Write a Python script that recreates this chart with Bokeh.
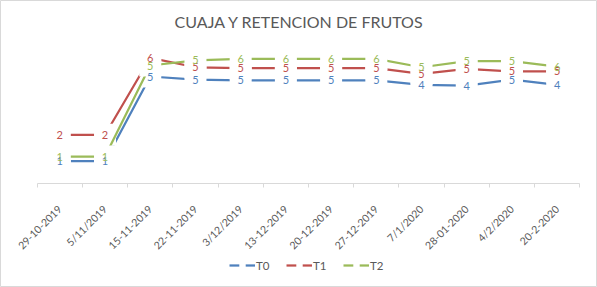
import math
from bokeh.plotting import figure
from bokeh.models import (ColumnDataSource, Range1d, LinearAxis, FixedTicker,
                          Legend, LegendItem, Label)
from bokeh.core.properties import value
from bokeh.embed import file_html
from bokeh.resources import INLINE

title = "CUAJA Y RETENCION DE FRUTOS"
dates = ["29-10-2019", "5/11/2019", "15-11-2019", "22-11-2019", "3/12/2019",
         "13-12-2019", "20-12-2019", "27-12-2019", "7/1/2020", "28-01-2020",
         "4/2/2020", "20-2-2020"]
t0 = [1.0, 1.0, 4.85, 4.71, 4.67, 4.67, 4.67, 4.67, 4.47, 4.44, 4.71, 4.47]
t1 = [2.2, 2.2, 5.70, 5.27, 5.23, 5.23, 5.23, 5.23, 4.97, 5.20, 5.08, 5.08]
t2 = [1.21, 1.21, 5.35, 5.58, 5.65, 5.65, 5.65, 5.65, 5.27, 5.55, 5.55, 5.30]
t0_labels = ["1", "1", "5", "5", "5", "5", "5", "5", "4", "4", "5", "4"]
t1_labels = ["2", "2", "6", "5", "5", "5", "5", "5", "5", "5", "5", "5"]
t2_labels = ["1", "1", "5", "5", "6", "6", "6", "6", "5", "5", "5", "6"]
series_names = ["T0", "T1", "T2"]
colors = ["#4F81BD", "#C0504D", "#9BBB59"]

W, H = 597, 287
n = len(dates)
xs = [i + 0.5 for i in range(n)]

# frame covers the whole canvas; plot area maps 0..n onto 36.7..579.3 px
px_per_cat = (579.3 - 36.7) / n
px_per_unit = 22.0
x0_px, y0_px = 36.7, 182.7

p = figure(width=W, height=H, output_backend="svg", toolbar_location=None,
           x_axis_location=None, y_axis_location=None, min_border=0,
           x_range=Range1d(-x0_px / px_per_cat, (W - x0_px) / px_per_cat),
           y_range=Range1d(-(H - y0_px) / px_per_unit, y0_px / px_per_unit))
p.grid.visible = False
p.outline_line_color = "#D9D9D9"
p.outline_line_width = 1
p.background_fill_color = "white"
p.border_fill_color = "white"

axis = LinearAxis(fixed_location=0)
axis.ticker = FixedTicker(ticks=xs, minor_ticks=list(range(n + 1)))
axis.major_label_overrides = {x: d for x, d in zip(xs, dates)}
axis.bounds = (0, n)
axis.axis_line_color = "#D9D9D9"
axis.major_tick_line_color = None
axis.major_tick_out = 0
axis.major_tick_in = 0
axis.minor_tick_line_color = "#D9D9D9"
axis.minor_tick_out = 4
axis.minor_tick_in = 0
axis.major_label_orientation = math.pi / 4
axis.major_label_standoff = 20
axis.major_label_text_font = "Lato"
axis.major_label_text_font_size = "10.5px"
axis.major_label_text_color = "#595959"
p.add_layout(axis, "below")

data = [t0, t1, t2]
labels = [t0_labels, t1_labels, t2_labels]
line_r, mark_r = [], []
for vals, c in zip(data, colors):
    src = ColumnDataSource(dict(x=xs, y=vals))
    lr = p.line("x", "y", source=src, line_color=c, line_width=2.25)
    mr = p.scatter("x", "y", source=src, marker="square", size=22,
                   fill_color="white", line_color=None)
    line_r.append(lr)
    mark_r.append(mr)

for vals, labs, c in zip(data, labels, colors):
    src = ColumnDataSource(dict(x=xs, y=vals, t=labs))
    p.text("x", "y", text="t", source=src, text_color=c,
           text_font=value("Lato"), text_font_size="11px",
           text_align="center", text_baseline="middle")

p.add_layout(Label(x=(299 - x0_px) / px_per_cat, y=(y0_px - 20.7) / px_per_unit,
                   text=title, text_font="Lato", text_font_size="16px",
                   text_color="#595959", text_align="center",
                   text_baseline="middle"))

legend = Legend(items=[LegendItem(label=nm, renderers=[l, m])
                       for nm, l, m in zip(series_names, line_r, mark_r)],
                orientation="horizontal", location=(229, 14),
                padding=0, margin=0, spacing=10, label_standoff=1,
                glyph_width=26, glyph_height=16, label_height=16,
                border_line_color=None, background_fill_alpha=0,
                label_text_font="Lato", label_text_font_size="11.5px",
                label_text_color="#595959")
p.add_layout(legend)

open("out.html", "w").write(file_html(p, INLINE))
